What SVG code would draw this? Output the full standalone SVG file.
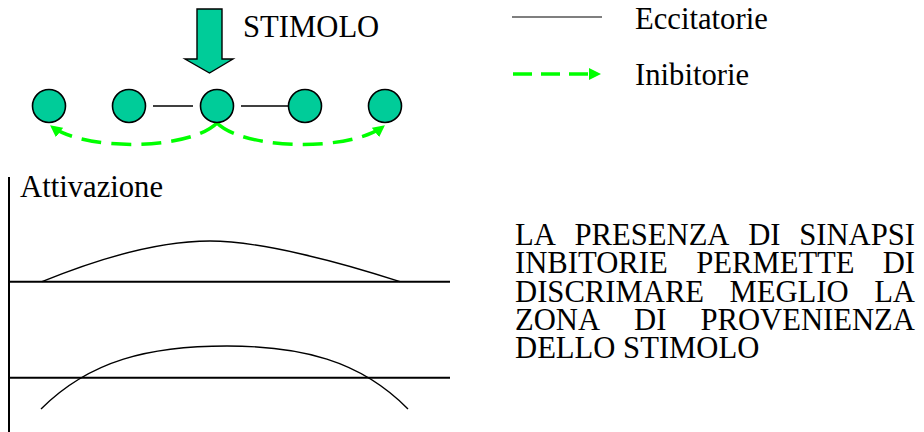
<svg xmlns="http://www.w3.org/2000/svg" width="924" height="432" viewBox="0 0 924 432">
<style>
text{font-family:"Liberation Serif","Times New Roman",serif;font-size:30.67px;fill:#000}
.neuron{fill:#00CC99;stroke:#000;stroke-width:1.6}
.exc{stroke:#000;stroke-width:1.3;fill:none}
.inh{stroke:#00FF00;stroke-width:3.5;fill:none;stroke-dasharray:20 10}
.axis{stroke:#000;stroke-width:2;fill:none}
.curve{stroke:#000;stroke-width:1.4;fill:none}
</style>
<defs>
<marker id="gh" viewBox="0 0 10 10" refX="9" refY="5" markerWidth="3.4" markerHeight="3.4" orient="auto" markerUnits="strokeWidth">
<path d="M0,0 L10,5 L0,10 Z" fill="#00FF00"/>
</marker>
</defs>
<rect width="924" height="432" fill="#fff"/>
<g id="stimolo">
<path d="M197,9 H222 V59 H233 L209.5,73 L185,59 H197 Z" fill="#00CC99" stroke="#000" stroke-width="1.4"/>
<text x="243" y="37">STIMOLO</text>
</g>
<g id="connectors">
<line class="exc" x1="153" y1="106" x2="193" y2="106"/>
<line class="exc" x1="241" y1="106" x2="289" y2="106"/>
<path class="inh" d="M217,123 C190,150 85,152 51,126" marker-end="url(#gh)"/>
<path class="inh" d="M217,123 C244,150 350,152 384,126" marker-end="url(#gh)"/>
</g>
<g id="n1"><circle class="neuron" cx="49" cy="106" r="16.5"/></g>
<g id="n2"><circle class="neuron" cx="129" cy="106" r="16.5"/></g>
<g id="n3"><circle class="neuron" cx="217" cy="106" r="16.5"/></g>
<g id="n4"><circle class="neuron" cx="305" cy="106" r="16.5"/></g>
<g id="n5"><circle class="neuron" cx="385" cy="106" r="16.5"/></g>
<g id="legend">
<line x1="512" y1="17" x2="602" y2="17" stroke="#000" stroke-width="1.2"/>
<text x="635" y="29">Eccitatorie</text>
<path d="M513,74 H590" stroke="#00FF00" stroke-width="3.5" stroke-dasharray="19 9"/>
<path d="M589,68 L601,74 L589,80 Z" fill="#00FF00"/>
<text x="635" y="85">Inibitorie</text>
</g>
<g id="graph">
<line class="axis" x1="9" y1="177" x2="9" y2="432"/>
<text x="20" y="197">Attivazione</text>
<line class="axis" x1="9" y1="281.7" x2="450" y2="281.7"/>
<path class="curve" d="M42,281.7 C100,258 160,241 210,241 C260,241 340,262 400,281.7"/>
<line class="axis" x1="9" y1="377.7" x2="450" y2="377.7"/>
<path class="curve" d="M41,409 C90,360 150,346 227,346 C300,346 360,360 408,409"/>
</g>
<g id="note">
<text x="515" y="245">LA</text><text x="574.5" y="245">PRESENZA</text><text x="748.2" y="245">DI</text><text x="915" y="245" text-anchor="end">SINAPSI</text>
<text x="515" y="273.3">INBITORIE</text><text x="696.2" y="273.3">PERMETTE</text><text x="915" y="273.3" text-anchor="end">DI</text>
<text x="515" y="301.7">DISCRIMARE</text><text x="729.5" y="301.7">MEGLIO</text><text x="915" y="301.7" text-anchor="end">LA</text>
<text x="515" y="330">ZONA</text><text x="634.1" y="330">DI</text><text x="915" y="330" text-anchor="end">PROVENIENZA</text>
<text x="515" y="358.3">DELLO STIMOLO</text>
</g>
</svg>
